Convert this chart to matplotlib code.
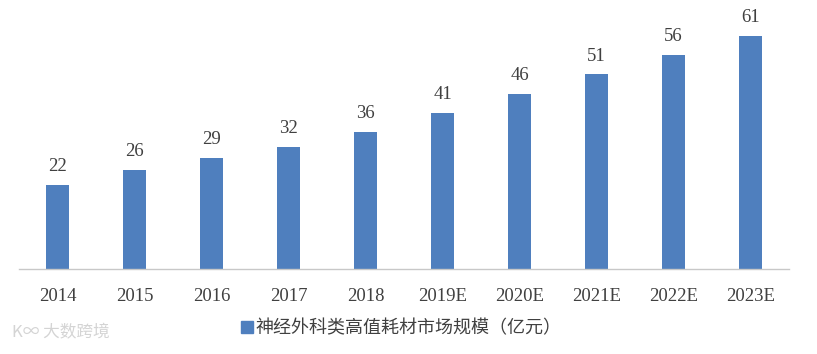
import matplotlib
matplotlib.use('Agg')
import matplotlib.pyplot as plt
from matplotlib.lines import Line2D

# 神经外科类高值耗材市场规模（亿元）
years = ['2014', '2015', '2016', '2017', '2018', '2019E', '2020E', '2021E', '2022E', '2023E']
values = [22, 26, 29, 32, 36, 41, 46, 51, 56, 61]
series_name = '神经外科类高值耗材市场规模（亿元）'

bar_color = '#4F7FBE'
text_color = '#404040'
serif = 'Liberation Serif'
cjk = ['Noto Sans CJK SC', 'DejaVu Sans']

fig = plt.figure(figsize=(8.17, 3.54), dpi=100)
ax = fig.add_axes([19 / 817, 85 / 354, 770 / 817, 267 / 354])

x = range(len(years))
bars = ax.bar(x, values, width=0.31, color=bar_color, zorder=2)
for xi, v in zip(x, values):
    ax.text(xi, v + 2.6, str(v), ha='center', va='bottom', fontsize=13.5,
            family=serif, color=text_color)

ax.set_xlim(-0.5, len(years) - 0.5)
ax.set_ylim(0, 70)
ax.set_yticks([])
ax.set_xticks(list(x))
ax.set_xticklabels(years, family=serif, fontsize=13.5, color=text_color)
ax.tick_params(axis='x', length=0, pad=14)
for side in ['top', 'right', 'left']:
    ax.spines[side].set_visible(False)
ax.spines['bottom'].set_color('#C8C8C8')
ax.spines['bottom'].set_linewidth(1.0)

handle = Line2D([], [], marker='s', linestyle='none', markersize=8,
                markerfacecolor=bar_color, markeredgecolor=bar_color)
leg = fig.legend([handle], [series_name], loc='center', bbox_to_anchor=(400 / 817, 1 - 328 / 354),
                 frameon=False, handletextpad=0.0, handlelength=0.9,
                 prop={'family': cjk, 'size': 13})
for t in leg.get_texts():
    t.set_color(text_color)

# watermark
fig.text(12 / 817, 1 - 333 / 354, 'K∞ 大数跨境', fontsize=12, color='#D4D4D4',
         family=cjk, va='center', ha='left')

fig.savefig('out.png', dpi=100)
